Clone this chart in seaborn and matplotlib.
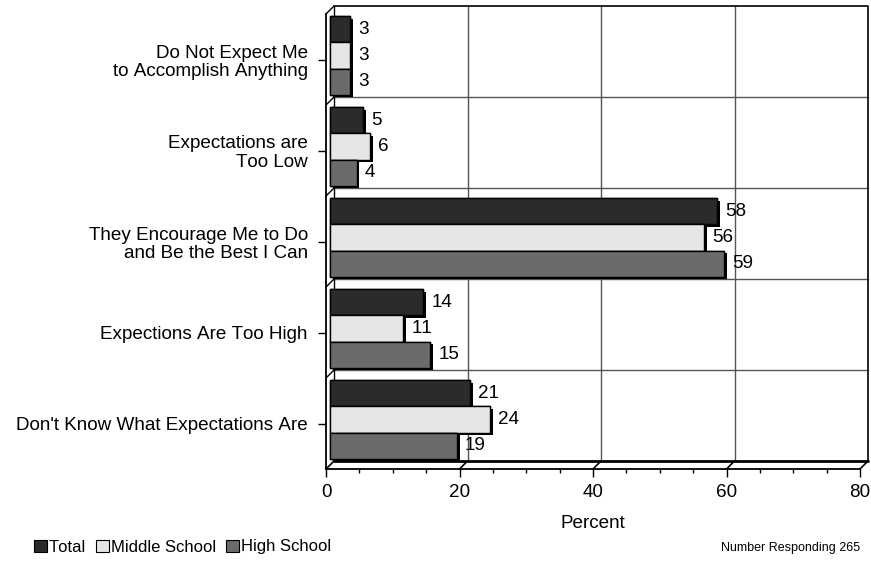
import pandas as pd
import matplotlib
matplotlib.use("Agg")
import matplotlib.pyplot as plt
import matplotlib.patheffects as pe
from matplotlib.patches import Patch
from matplotlib.lines import Line2D
from matplotlib.transforms import Affine2D, IdentityTransform
import seaborn as sns

CATEGORIES = [
    "Do Not Expect Me\nto Accomplish Anything",
    "Expectations are\nToo Low",
    "They Encourage Me to Do\nand Be the Best I Can",
    "Expections Are Too High",
    "Don't Know What Expectations Are",
]
GROUPS = ["Total", "Middle School", "High School"]
TOTAL = [3, 5, 58, 14, 21]
MIDDLE = [3, 6, 56, 11, 24]
HIGH = [3, 4, 59, 15, 19]
COLORS = {"Total": "#2b2b2b", "Middle School": "#e6e6e6", "High School": "#6b6b6b"}
X_TICKS = [0, 20, 40, 60, 80]

DEPTH = 8  # pixel offset of the back wall
FS = 13.6

sns.set_style("white")
plt.rcParams["font.family"] = ["Liberation Sans", "DejaVu Sans"]
plt.rcParams.update({"text.color": "black", "axes.labelcolor": "black",
                     "xtick.color": "black", "ytick.color": "black",
                     "text.kerning_factor": 6})

rows = []
for g, vals in zip(GROUPS, [TOTAL, MIDDLE, HIGH]):
    for c, v in zip(CATEGORIES, vals):
        rows.append({"cat": c, "group": g, "value": v})
df = pd.DataFrame(rows)

fig = plt.figure(figsize=(8.71, 5.88), dpi=100)
ax = fig.add_axes([326 / 871, 1 - 469 / 588, 534 / 871, 455 / 588])

sns.barplot(data=df, y="cat", x="value", hue="group", order=CATEGORIES,
            hue_order=GROUPS, palette=COLORS, orient="h", width=0.86,
            edgecolor="black", linewidth=1.0, saturation=1, legend=False, ax=ax)

ax.set_xlim(0, 80)
ax.set_ylim(4.5, -0.5)
ax.set_xticks(X_TICKS)
ax.set_xticks(range(0, 81, 5), minor=True)
ax.tick_params(axis="x", which="major", length=6, width=1, direction="out",
               bottom=True, labelsize=FS, pad=5)
ax.tick_params(axis="x", which="minor", length=3, width=1, direction="out", bottom=True)
ax.tick_params(axis="y", length=6, width=1, direction="out", left=True,
               labelsize=FS, pad=7)
for lab in ax.get_yticklabels():
    lab.set_linespacing(1.1)
ax.set_ylabel("")
ax.set_xlabel("Percent", fontsize=FS, labelpad=10)
for s in ["top", "right"]:
    ax.spines[s].set_visible(False)
for s in ["left", "bottom"]:
    ax.spines[s].set_color("black")
    ax.spines[s].set_linewidth(1.3)

fig.canvas.draw()

# bars sit half way into the depth, with a dark side shadow
bar_shift = ax.transData + Affine2D().translate(DEPTH / 2, DEPTH / 2)
for p in ax.patches:
    p.set_transform(bar_shift)
    p.set_path_effects([pe.withSimplePatchShadow(offset=(2, -2), shadow_rgbFace="black", alpha=1),
                        pe.Normal()])
    p.set_zorder(3)

# value labels
for p in ax.patches:
    w = p.get_width()
    yc = p.get_y() + p.get_height() / 2
    if w <= 0:
        continue
    ax.annotate(f"{w:g}", xy=(w, yc), xycoords=bar_shift, xytext=(8, 0),
                textcoords="offset pixels", ha="left", va="center", fontsize=FS,
                zorder=4)

# back wall
back = ax.transData + Affine2D().translate(DEPTH, DEPTH)
grid_kw = dict(transform=back, color="#555555", lw=1.0, clip_on=False, zorder=0.5)
for x in X_TICKS[1:-1]:
    ax.plot([x, x], [-0.5, 4.5], **grid_kw)
for y in [0.5, 1.5, 2.5, 3.5]:
    ax.plot([0, 80], [y, y], **grid_kw)
frame_kw = dict(transform=back, color="black", clip_on=False, zorder=0.6)
ax.plot([0, 80, 80], [-0.5, -0.5, 4.5], lw=1.2, **frame_kw)
ax.plot([0, 0], [-0.5, 4.5], lw=1.0, **frame_kw)
ax.plot([0, 80], [4.5, 4.5], lw=2.0, **frame_kw)

# diagonals joining front and back edges
def diag(x, y, lw=1.0):
    x0, y0 = ax.transData.transform((x, y))
    fig.add_artist(Line2D([x0, x0 + DEPTH], [y0, y0 + DEPTH], transform=IdentityTransform(),
                          color="black", lw=lw))

for y in [-0.5, 0.5, 1.5, 2.5, 3.5]:
    diag(0, y)
for x in X_TICKS:
    diag(x, 4.5, lw=1.2)

# legend and note
handles = [Patch(facecolor=COLORS[g], edgecolor="black", linewidth=0.8) for g in GROUPS]
fig.legend(handles, GROUPS, loc="center left", bbox_to_anchor=(34 / 871, 1 - 547 / 588),
           ncol=3, frameon=False, fontsize=12, handlelength=0.75, handleheight=0.75,
           handletextpad=0.15, columnspacing=0.6, borderpad=0, borderaxespad=0)
fig.text(860 / 871, 1 - 548 / 588, "Number Responding 265", ha="right", va="center",
         fontsize=9)

fig.savefig("out.png", dpi=100)
